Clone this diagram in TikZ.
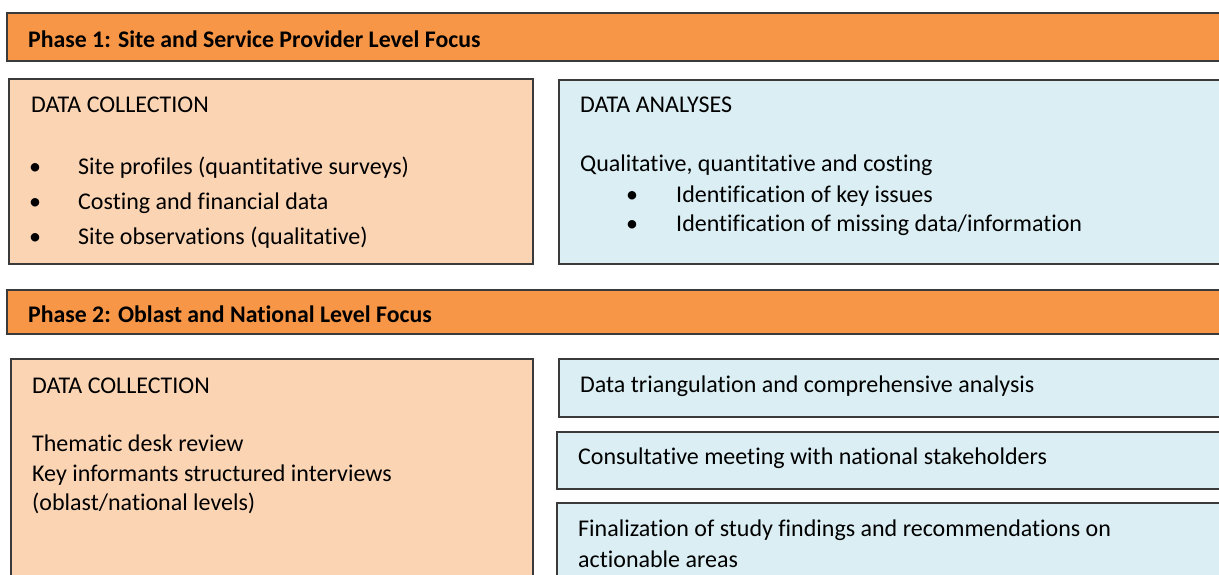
\documentclass[tikz,border=0pt]{standalone}
\usepackage{fontspec}
\setmainfont[Ligatures={NoCommon}]{Carlito}
\definecolor{hdr}{HTML}{F79646}
\definecolor{lor}{HTML}{FBD4B4}
\definecolor{lbl}{HTML}{DAEEF3}
\definecolor{edge}{HTML}{3A3A3A}
\tikzset{
  hdrbox/.style={fill=hdr,draw=edge,line width=1.5pt},
  orbox/.style={fill=lor,draw=edge,line width=1.3pt},
  blbox/.style={fill=lbl,draw=edge,line width=1.3pt},
  txt/.style={anchor=base west,inner sep=0pt,font=\fontsize{24}{29}\selectfont},
  htxt/.style={anchor=base west,inner sep=0pt,font=\fontsize{23.8}{29}\selectfont\bfseries},
  bul/.style={anchor=base,inner sep=0pt,font=\fontsize{24}{29}\selectfont}
}
\begin{document}
\begin{tikzpicture}[x=1pt,y=-1pt]
\useasboundingbox (0,0) rectangle (1219,574);
\clip (0,0) rectangle (1219,574);
% Phase 1
\draw[hdrbox] (7,13) rectangle (1240,61);
\node[htxt] (h1) at (28,47) {Phase 1: Site and Service Provider Level Focus};
\draw[orbox] (9,79) rectangle (533,264);
\node[txt] (dc1) at (31,112) {DATA COLLECTION};
\node[bul] (b1) at (35,174) {•};
\node[txt] (t1) at (78,174) {Site profiles (quantitative surveys)};
\node[bul] (b2) at (35,209) {•};
\node[txt] (t2) at (78,209) {Costing and financial data};
\node[bul] (b3) at (35,244) {•};
\node[txt] (t3) at (78,244) {Site observations (qualitative)};
\draw[blbox] (559,80) rectangle (1240,264);
\node[txt] (da) at (580,112) {DATA ANALYSES};
\node[txt] (q) at (580,171) {Qualitative, quantitative and costing};
\node[bul] (b4) at (632,202) {•};
\node[txt] (t4) at (676,202) {Identification of key issues};
\node[bul] (b5) at (632,231) {•};
\node[txt] (t5) at (676,231) {Identification of missing data/information};
% Phase 2
\draw[hdrbox] (7,290) rectangle (1240,334);
\node[htxt] (h2) at (28,322) {Phase 2: Oblast and National Level Focus};
\draw[orbox] (11,359) rectangle (533,600);
\node[txt] (dc2) at (32,393) {DATA COLLECTION};
\node[txt] (p1) at (32,451) {Thematic desk review};
\node[txt] (p2) at (32,481) {Key informants structured interviews};
\node[txt] (p3) at (32,510) {(oblast/national levels)};
\draw[blbox] (559,359) rectangle (1240,417);
\node[txt] (r1) at (580,392) {Data triangulation and comprehensive analysis};
\draw[blbox] (557,432) rectangle (1240,489);
\node[txt] (r2) at (578,464) {Consultative meeting with national stakeholders};
\draw[blbox] (557,503) rectangle (1240,600);
\node[txt] (r3) at (578,536) {Finalization of study findings and recommendations on};
\node[txt] (r4) at (578,567) {actionable areas};
\end{tikzpicture}
\end{document}
